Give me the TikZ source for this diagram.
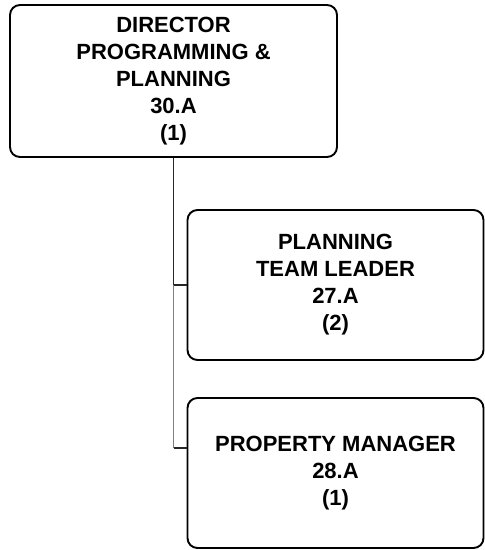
\documentclass[tikz,border=0pt]{standalone}
\usepackage{fontspec}
\setmainfont{Liberation Sans}
\usepackage{tikz}
\usetikzlibrary{positioning}

\begin{document}
\begin{tikzpicture}[
    x=1pt, y=1pt,
    post/.style={
      draw,
      line width=1.9pt,
      rounded corners=3.5mm,
      align=center,
      font=\fontsize{22}{27}\selectfont\bfseries
    },
    link/.style={line width=1.5pt}
  ]
    \useasboundingbox (0,0) rectangle (485,-550);
    \node[post, minimum width=327pt, minimum height=152pt] (director) at (173.5,-81)
      {DIRECTOR\\PROGRAMMING \&\\PLANNING\\30.A\\(1)};
    \node[post, minimum width=296pt, minimum height=150pt] (planning) at (335.5,-285)
      {PLANNING\\TEAM LEADER\\27.A\\(2)};
    \node[post, minimum width=296pt, minimum height=150pt] (property) at (335.5,-473)
      {PROPERTY MANAGER\\28.A\\(1)};
    \coordinate (tick) at (175,-448);
    % reporting lines
    \draw[link, black!85] (director.south) -- (director.south |- planning.west) -- (planning.west);
    \draw[link, black!50] (director.south |- planning.west) -- (director.south |- tick);
    \draw[link, black!85] (director.south |- tick) -- (tick -| property.west);
  \end{tikzpicture}
\end{document}
